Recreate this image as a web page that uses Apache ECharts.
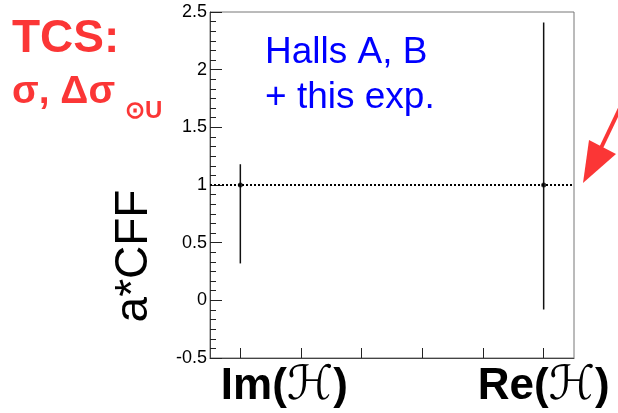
<!DOCTYPE html>
<html>
<head>
<meta charset="utf-8">
<script src="https://cdn.jsdelivr.net/npm/echarts@6/dist/echarts.min.js"></script>
<style>html,body{margin:0;padding:0;background:#fff}#c{width:618px;height:413px}</style>
</head>
<body>
<div id="c"></div>
<script>
// ---- data ----
const categories = ['Im(\u210B)', '', '', '', '', 'Re(\u210B)'];
const pointIndex = [0, 5];
const pointValue = [1, 1];
const errLow = [0.32, -0.08];
const errHigh = [1.18, 2.41];
const refLine = 1;
const yMin = -0.5, yMax = 2.5, yStep = 0.5;
const yAxisTitle = 'a*CFF';
const noteLines = ['Halls A, B', '+ this exp.'];
const titleLine1 = 'TCS:';
const titleLine2 = '\u03C3, \u0394\u03C3';
const titleSub = '\u2299U';

const chart = echarts.init(document.getElementById('c'), null, {renderer: 'canvas'});
const errData = pointIndex.map((x, i) => [x, errLow[i], errHigh[i]]);
const ptData = pointIndex.map((x, i) => [x, pointValue[i]]);

function richLabel(v, key) {
  const m = v.match(/^(.*\()(.)(\))$/);
  if (!m) return v;
  return '{' + key + '|' + m[1] + '}{h|' + m[2] + '}{' + key + 'e|' + m[3] + '}';
}
const boldStyle = {fontFamily: 'Liberation Sans, Arial, sans-serif', fontWeight: 'bold', fontSize: 44, color: '#000'};

chart.setOption({
  animation: false,
  backgroundColor: '#fff',
  grid: {left: 210, top: 12, right: 44, bottom: 55, show: true, borderColor: '#777', borderWidth: 1, backgroundColor: 'transparent'},
  xAxis: {
    type: 'category', data: categories, boundaryGap: true,
    axisLine: {onZero: false, lineStyle: {color: '#444', width: 1}},
    axisTick: {show: true, inside: true, alignWithLabel: true, length: 10, lineStyle: {color: '#222'}},
    axisLabel: {
      interval: 0, margin: 5,
      formatter: (v, i) => i === 0 ? richLabel(v, 'im') : (v ? richLabel(v, 're') : ''),
      rich: {
        im: Object.assign({}, boldStyle, {padding: [0, 0, 0, 88]}),
        ime: boldStyle,
        re: boldStyle,
        ree: boldStyle,
        h: {fontFamily: 'DejaVu Sans, sans-serif', fontWeight: 'normal', fontSize: 47, color: '#000'}
      }
    },
    splitLine: {show: false}
  },
  yAxis: {
    type: 'value', min: yMin, max: yMax, interval: yStep,
    axisLine: {show: true, onZero: false, lineStyle: {color: '#444', width: 1}},
    axisTick: {show: true, inside: true, length: 12, lineStyle: {color: '#222'}},
    minorTick: {show: true, splitNumber: 6, length: 6, lineStyle: {color: '#222'}},
    axisLabel: {fontFamily: 'Liberation Sans Narrow, Liberation Sans, sans-serif', fontSize: 18, color: '#000', margin: 3},
    splitLine: {show: false}
  },
  series: [
    {
      type: 'custom',
      data: errData,
      renderItem: function (params, api) {
        const p1 = api.coord([api.value(0), api.value(1)]);
        const p2 = api.coord([api.value(0), api.value(2)]);
        return {type: 'line', shape: {x1: p1[0], y1: p1[1], x2: p2[0], y2: p2[1]}, style: {stroke: '#111', lineWidth: 1.5}};
      },
      z: 3
    },
    {
      type: 'scatter', data: ptData, symbol: 'circle', symbolSize: 5,
      itemStyle: {color: '#000'}, z: 4,
      markLine: {
        silent: true, symbol: 'none', label: {show: false},
        lineStyle: {color: '#000', type: [2, 2], width: 2},
        data: [{yAxis: refLine}]
      }
    }
  ],
  graphic: [
    {type: 'text', left: 265, top: 30, style: {text: noteLines.join('\n'), fill: '#0000ff', font: '37px "Liberation Sans", Arial, sans-serif', lineHeight: 45}},
    {type: 'text', x: 134, y: 256, rotation: Math.PI / 2, style: {text: yAxisTitle, fill: '#000', font: '46px "Liberation Sans", Arial, sans-serif', align: 'center', verticalAlign: 'middle'}},
    {type: 'text', left: 12, top: 16, style: {text: titleLine1, fill: '#fb3636', font: 'bold 46px "Liberation Sans", Arial, sans-serif'}},
    {type: 'text', left: 12, top: 73, style: {text: titleLine2, fill: '#fb3636', font: 'bold 39px "Liberation Sans", Arial, sans-serif'}},
    {type: 'text', left: 125, top: 99, style: {text: titleSub, fill: '#fb3636', font: 'bold 24px "Liberation Sans", Arial, sans-serif'}},
    {type: 'line', shape: {x1: 622, y1: 104, x2: 601, y2: 148}, style: {stroke: '#fb3636', lineWidth: 4}},
    {type: 'polygon', shape: {points: [[583, 183], [589, 140], [616, 154]]}, style: {fill: '#fb3636'}}
  ]
});
</script>
</body>
</html>
